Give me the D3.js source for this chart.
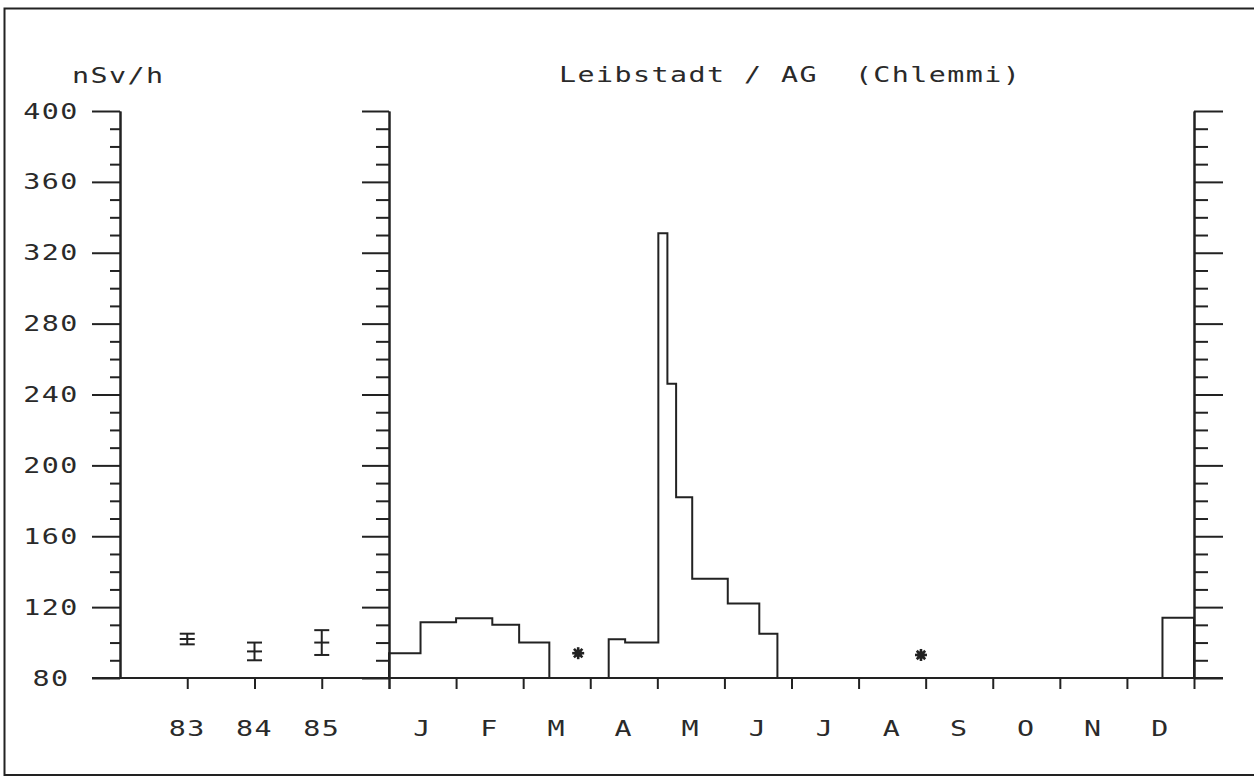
<!DOCTYPE html>
<html>
<head>
<meta charset="utf-8">
<script src="https://cdn.jsdelivr.net/npm/d3@7"></script>
<style>
  html, body { margin: 0; padding: 0; background: #fff; }
  svg { display: block; }
  text { font-family: "DejaVu Sans Mono", monospace; font-size: 21px; fill: #2a2a2a; white-space: pre; letter-spacing: 1.06px; }
</style>
</head>
<body>
<svg id="chart" width="1254" height="776"></svg>
<script>
// ---- data ----
const titleText = "Leibstadt / AG  (Chlemmi)";
const unitLabel = "nSv/h";
const yMajorTicks = [80, 120, 160, 200, 240, 280, 320, 360, 400];
const yMinorTicks = d3.range(90, 400, 10).filter(v => v % 40 !== 0);

// annual means with spread
const years = ["83", "84", "85"];
const yearMean = [102, 95, 100];
const yearErr = [3, 5, 7];

// monthly panel
const months = ["J", "F", "M", "A", "M", "J", "J", "A", "S", "O", "N", "D"];
// measuring period boundaries, in months from 1 January
const periodBounds = [0, 0.47, 1.0, 1.54, 1.94, 2.39, 3.275, 3.52, 4.015, 4.15, 4.28, 4.52, 5.05, 5.52, 5.79, 11.53, 12];
// dose rate for each period (null = no measurement)
const periodValues = [94, 111.4, 113.7, 110, 100, null, 101.8, 100, 331, 246, 182, 136, 122, 105, null, 114];
// markers for missing data
const missingAt = [2.82, 7.93];
const missingLevel = [94, 93];

// ---- layout ----
const ink = "#222";
const svg = d3.select("#chart");
const baseY = 678, topY = 111;
const y = d3.scaleLinear().domain([80, 400]).range([baseY, topY]);
const xYears = d3.scaleLinear().domain([0, 4]).range([120, 389]);
const xMonths = d3.scaleLinear().domain([0, 12]).range([389, 1194]);

// outer frame (right side runs off the page)
svg.append("rect")
  .attr("x", 4.5).attr("y", 8.5).attr("width", 1262).attr("height", 766.5)
  .attr("fill", "none").attr("stroke", ink).attr("stroke-width", 2);

function styleAxis(g) {
  g.attr("color", ink);
  g.selectAll("line, path").attr("stroke-width", 2);
  g.selectAll("text").remove();
}

// vertical axes: major + minor ticks
function vAxis(xPos, maker, majorLen, minorLen) {
  svg.append("g").attr("transform", `translate(${xPos},0)`)
    .call(maker(y).tickValues(yMajorTicks).tickSize(majorLen).tickSizeOuter(0).tickFormat(""))
    .call(styleAxis);
  svg.append("g").attr("transform", `translate(${xPos},0)`)
    .call(maker(y).tickValues(yMinorTicks).tickSize(minorLen).tickSizeOuter(0).tickFormat(""))
    .call(styleAxis);
}
vAxis(120, d3.axisLeft, 28, 10);
vAxis(389, d3.axisLeft, 27, 13);
vAxis(1194, d3.axisRight, 29, 14);

// baseline
svg.append("line")
  .attr("x1", 92).attr("x2", 1223)
  .attr("y1", y(80)).attr("y2", y(80))
  .attr("stroke", ink).attr("stroke-width", 2);

// downward x ticks
svg.append("g").attr("transform", `translate(0,${baseY})`)
  .call(d3.axisBottom(xYears).tickValues([1, 2, 3, 4]).tickSize(11).tickSizeOuter(0).tickFormat(""))
  .call(styleAxis)
  .call(g => g.select(".domain").remove());
svg.append("g").attr("transform", `translate(0,${baseY})`)
  .call(d3.axisBottom(xMonths).tickValues(d3.range(0, 13)).tickSize(11).tickSizeOuter(0).tickFormat(""))
  .call(styleAxis)
  .call(g => g.select(".domain").remove());

// text helper: wide plotter-style lettering
function label(x, yy, str, anchor) {
  svg.append("g").attr("transform", `translate(${x},${yy})`)
    .append("text")
    .attr("transform", "scale(1.35,1)")
    .attr("text-anchor", anchor || "middle")
    .text(str);
}

// y tick labels
yMajorTicks.forEach(v => label(51, y(v) + 7.5, String(v)));
label(72, 83, unitLabel, "start");
label(559, 82, titleText, "start");

// x labels
years.forEach((t, i) => label(xYears(i + 1), 736, t));
months.forEach((m, i) => label(xMonths(i + 0.5), 736, m));

// annual error bars
const capHalf = 7.5;
years.forEach((t, i) => {
  const cx = xYears(i + 1);
  const g = svg.append("g").attr("stroke", ink).attr("stroke-width", 2);
  const lo = yearMean[i] - yearErr[i], hi = yearMean[i] + yearErr[i];
  g.append("line").attr("x1", cx).attr("x2", cx).attr("y1", y(lo)).attr("y2", y(hi));
  [lo, yearMean[i], hi].forEach(v => {
    g.append("line").attr("x1", cx - capHalf).attr("x2", cx + capHalf).attr("y1", y(v)).attr("y2", y(v));
  });
});

// stepped histogram of measuring periods
const p = d3.path();
let inRun = false;
periodValues.forEach((v, i) => {
  const x0 = xMonths(periodBounds[i]), x1 = xMonths(periodBounds[i + 1]);
  if (v === null) {
    if (inRun) { p.lineTo(x0, y(80)); inRun = false; }
    return;
  }
  if (!inRun) { p.moveTo(x0, y(80)); inRun = true; }
  p.lineTo(x0, y(v));
  p.lineTo(x1, y(v));
});
if (inRun) p.lineTo(xMonths(periodBounds[periodBounds.length - 1]), y(80));
svg.append("path")
  .attr("d", p.toString())
  .attr("fill", "none").attr("stroke", ink).attr("stroke-width", 2)
  .attr("stroke-linejoin", "miter");

// missing-data asterisks
missingAt.forEach((m, i) => {
  const g = svg.append("g")
    .attr("transform", `translate(${xMonths(m)},${y(missingLevel[i])})`)
    .attr("stroke", ink).attr("stroke-width", 2.6);
  g.append("circle").attr("r", 3.8).attr("fill", ink).attr("stroke", "none");
  [0, 45, 90, 135].forEach(a => {
    const r = 6, rad = a * Math.PI / 180;
    g.append("line")
      .attr("x1", -r * Math.cos(rad)).attr("y1", -r * Math.sin(rad))
      .attr("x2", r * Math.cos(rad)).attr("y2", r * Math.sin(rad));
  });
});
</script>
</body>
</html>
